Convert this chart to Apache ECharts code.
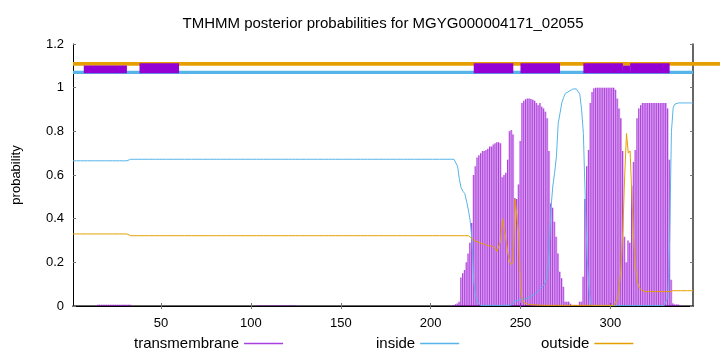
<!DOCTYPE html>
<html>
<head>
<meta charset="utf-8">
<script src="https://cdn.jsdelivr.net/npm/echarts@6/dist/echarts.min.js"></script>
<style>html,body{margin:0;padding:0;background:#fff;}#c{width:720px;height:352px;}</style>
</head>
<body>
<div id="c"></div>
<script>
// ---- data (residue 1..346) ----
const xTicks = [50, 100, 150, 200, 250, 300];
const yTicks = [0, 0.2, 0.4, 0.6, 0.8, 1, 1.2];
const seriesNames = ['transmembrane', 'inside', 'outside'];

const transmembrane = [
0,0,0,0,0,0,0,0,0,0,
0,0,0,0,0.006,0.006,0.006,0.006,0.006,0.006,
0.006,0.006,0.006,0.006,0.006,0.006,0.006,0.006,0.006,0.006,
0.006,0.006,0.006,0,0,0,0,0,0,0,
0,0,0,0,0,0,0,0,0,0,
0,0,0,0,0,0,0,0,0,0,
0,0,0,0,0,0,0,0,0,0,
0,0,0,0,0,0,0,0,0,0,
0,0,0,0,0,0,0,0,0,0,
0,0,0,0,0,0,0,0,0,0,
0,0,0,0.002,0.002,0.002,0.002,0.002,0.002,0.002,
0.002,0.002,0.002,0.002,0.002,0.002,0.002,0.002,0.002,0.002,
0.002,0.002,0.002,0.002,0.002,0,0,0,0,0,
0,0,0,0,0,0,0,0,0,0,
0,0,0,0,0,0,0,0,0,0,
0,0,0,0,0,0,0,0,0,0,
0,0,0,0,0,0,0,0,0,0,
0,0,0,0,0,0,0,0,0,0,
0,0,0,0,0,0,0,0,0,0,
0,0,0,0,0,0,0,0,0,0,
0,0,0,0,0,0,0,0,0,0,
0,0,0.004,0.008,0.012,0.02,0.13,0.15,0.165,0.2,
0.24,0.29,0.38,0.6,0.64,0.68,0.69,0.7,0.71,0.71,
0.715,0.72,0.73,0.73,0.74,0.745,0.75,0.75,0.745,0.59,
0.6,0.61,0.67,0.8,0.806,0.786,0.495,0.49,0.557,0.756,
0.93,0.94,0.947,0.95,0.95,0.948,0.945,0.94,0.93,0.92,
0.93,0.913,0.905,0.89,0.86,0.71,0.47,0.45,0.386,0.317,
0.24,0.157,0.127,0.088,0.02,0.02,0.02,0.01,0.005,0.005,
0.005,0.005,0.02,0.02,0.134,0.49,0.64,0.715,0.93,0.98,
0.997,1,1,1,1,1,1,1,1,1,
1,1,0.99,0.95,0.905,0.86,0.71,0.317,0.2,0.3,
0.29,0.55,0.66,0.715,0.86,0.905,0.92,0.93,0.93,0.93,
0.93,0.93,0.93,0.93,0.93,0.93,0.93,0.93,0.93,0.93,
0.93,0.905,0.67,0.12,0.012,0.007,0.007,0.007,0,0,
0,0,0,0,0,0
];

const inside = [
0.665,0.665,0.665,0.665,0.665,0.665,0.665,0.665,0.665,0.665,
0.665,0.665,0.665,0.665,0.665,0.665,0.665,0.665,0.665,0.665,
0.665,0.665,0.665,0.665,0.665,0.665,0.665,0.665,0.665,0.665,
0.665,0.665,0.672,0.672,0.672,0.672,0.672,0.672,0.672,0.672,
0.672,0.672,0.672,0.672,0.672,0.672,0.672,0.672,0.672,0.672,
0.672,0.672,0.672,0.672,0.672,0.672,0.672,0.672,0.672,0.672,
0.672,0.672,0.672,0.672,0.672,0.672,0.672,0.672,0.672,0.672,
0.672,0.672,0.672,0.672,0.672,0.672,0.672,0.672,0.672,0.672,
0.672,0.672,0.672,0.672,0.672,0.672,0.672,0.672,0.672,0.672,
0.672,0.672,0.672,0.672,0.672,0.672,0.672,0.672,0.672,0.672,
0.672,0.672,0.672,0.672,0.672,0.672,0.672,0.672,0.672,0.672,
0.672,0.672,0.672,0.672,0.672,0.672,0.672,0.672,0.672,0.672,
0.672,0.672,0.672,0.672,0.672,0.672,0.672,0.672,0.672,0.672,
0.672,0.672,0.672,0.672,0.672,0.672,0.672,0.672,0.672,0.672,
0.672,0.672,0.672,0.672,0.672,0.672,0.672,0.672,0.672,0.672,
0.672,0.672,0.672,0.672,0.672,0.672,0.672,0.672,0.672,0.672,
0.672,0.672,0.672,0.672,0.672,0.672,0.672,0.672,0.672,0.672,
0.672,0.672,0.672,0.672,0.672,0.672,0.672,0.672,0.672,0.672,
0.672,0.672,0.672,0.672,0.672,0.672,0.672,0.672,0.672,0.672,
0.672,0.672,0.672,0.672,0.672,0.672,0.672,0.672,0.672,0.672,
0.672,0.672,0.672,0.672,0.672,0.672,0.672,0.672,0.672,0.672,
0.672,0.672,0.672,0.665,0.64,0.58,0.54,0.525,0.515,0.48,
0.44,0.39,0.3,0.11,0.045,0.015,0.006,0.003,0.003,0.003,
0.003,0.003,0.003,0.003,0.003,0.003,0.003,0.003,0.003,0.003,
0.003,0.003,0.003,0.003,0.003,0.01,0.024,0.026,0.027,0.028,
0.03,0.032,0.034,0.037,0.04,0.045,0.05,0.056,0.062,0.07,
0.078,0.086,0.095,0.104,0.134,0.256,0.45,0.55,0.61,0.684,
0.837,0.883,0.93,0.955,0.974,0.98,0.983,0.99,0.993,0.995,
0.995,0.99,0.97,0.9,0.79,0.5,0.24,0.088,0.012,0.002,
0.002,0.002,0.002,0.002,0.002,0.002,0.002,0.002,0.002,0.002,
0.002,0.002,0.002,0.002,0.002,0.002,0.002,0.002,0.002,0.002,
0.002,0.002,0.002,0.002,0.002,0.002,0.002,0.002,0.002,0.002,
0.002,0.002,0.002,0.002,0.002,0.002,0.002,0.002,0.002,0.002,
0.01,0.04,0.3,0.8,0.91,0.925,0.93,0.93,0.93,0.93,
0.93,0.93,0.93,0.93,0.93,0.93
];

const outside = [
0.33,0.33,0.33,0.33,0.33,0.33,0.33,0.33,0.33,0.33,
0.33,0.33,0.33,0.33,0.33,0.33,0.33,0.33,0.33,0.33,
0.33,0.33,0.33,0.33,0.33,0.33,0.33,0.33,0.33,0.33,
0.33,0.33,0.322,0.322,0.322,0.322,0.322,0.322,0.322,0.322,
0.322,0.322,0.322,0.322,0.322,0.322,0.322,0.322,0.322,0.322,
0.322,0.322,0.322,0.322,0.322,0.322,0.322,0.322,0.322,0.322,
0.322,0.322,0.322,0.322,0.322,0.322,0.322,0.322,0.322,0.322,
0.322,0.322,0.322,0.322,0.322,0.322,0.322,0.322,0.322,0.322,
0.322,0.322,0.322,0.322,0.322,0.322,0.322,0.322,0.322,0.322,
0.322,0.322,0.322,0.322,0.322,0.322,0.322,0.322,0.322,0.322,
0.322,0.322,0.322,0.322,0.322,0.322,0.322,0.322,0.322,0.322,
0.322,0.322,0.322,0.322,0.322,0.322,0.322,0.322,0.322,0.322,
0.322,0.322,0.322,0.322,0.322,0.322,0.322,0.322,0.322,0.322,
0.322,0.322,0.322,0.322,0.322,0.322,0.322,0.322,0.322,0.322,
0.322,0.322,0.322,0.322,0.322,0.322,0.322,0.322,0.322,0.322,
0.322,0.322,0.322,0.322,0.322,0.322,0.322,0.322,0.322,0.322,
0.322,0.322,0.322,0.322,0.322,0.322,0.322,0.322,0.322,0.322,
0.322,0.322,0.322,0.322,0.322,0.322,0.322,0.322,0.322,0.322,
0.322,0.322,0.322,0.322,0.322,0.322,0.322,0.322,0.322,0.322,
0.322,0.322,0.322,0.322,0.322,0.322,0.322,0.322,0.322,0.322,
0.322,0.322,0.322,0.322,0.322,0.322,0.322,0.322,0.322,0.322,
0.322,0.322,0.322,0.322,0.322,0.322,0.322,0.322,0.322,0.322,
0.322,0.322,0.31,0.3,0.297,0.294,0.29,0.287,0.285,0.283,
0.28,0.275,0.27,0.275,0.27,0.264,0.25,0.248,0.3,0.4,
0.395,0.3,0.24,0.2,0.19,0.21,0.49,0.49,0.33,0.09,
0.03,0.015,0.008,0.008,0.006,0.006,0.005,0.005,0.004,0.004,
0.004,0.004,0.004,0.003,0.003,0.003,0.003,0.003,0.003,0.003,
0.003,0.003,0.003,0.003,0.003,0.003,0.003,0.003,0.003,0.003,
0.003,0.003,0.003,0.003,0.003,0.003,0.003,0.003,0.003,0.003,
0.003,0.003,0.003,0.003,0.003,0.003,0.003,0.003,0.003,0.003,
0.003,0.003,0.003,0.03,0.09,0.18,0.35,0.6,0.79,0.7,
0.71,0.5,0.3,0.18,0.11,0.085,0.075,0.066,0.066,0.066,
0.066,0.066,0.066,0.066,0.066,0.066,0.066,0.066,0.066,0.066,
0.066,0.066,0.066,0.07,0.07,0.07,0.07,0.07,0.07,0.07,
0.07,0.07,0.07,0.07,0.07,0.07
];

// predicted topology segments [start, end] (residues)
const outsideTrack = [[1, 346]];
const insideTrack = [[1, 346]];
const tmThickSegments = [[38, 60], [224, 246], [250, 272], [285, 307], [311, 333]];
const tmThinSegments = [[7, 31], [307, 311]];

// ---- chart ----
const residues = transmembrane.map((_, i) => i + 1);
const pairs = arr => arr.map((v, i) => [residues[i], v]);

const FONT = 'Liberation Sans';
const C_TM = '#9400d3', C_IN = '#56b4e9', C_OUT = '#e69f00';

function bandItem(yTop, yBot, color, extendRight) {
  return function (params, api) {
    const a = api.coord([api.value(0), yTop]);
    const b = api.coord([api.value(1), yBot]);
    const x1 = extendRight ? api.getWidth() : b[0];
    return { type: 'rect', shape: { x: a[0], y: a[1], width: x1 - a[0], height: b[1] - a[1] },
      style: { fill: color } };
  };
}

const chart = echarts.init(document.getElementById('c'), null, { renderer: 'canvas' });
const axisCommon = {
  type: 'value', min: 1, max: 346,
  axisLine: { show: true, lineStyle: { color: '#000', width: 1 } },
  splitLine: { show: false },
};
const legendCommon = { top: 331, align: 'right', itemWidth: 39, itemHeight: 1.3, icon: 'rect',
  textStyle: { fontFamily: FONT, fontSize: 15, color: '#000' }, selectedMode: false };
chart.setOption({
  animation: false,
  backgroundColor: '#fff',
  textStyle: { fontFamily: FONT },
  title: {
    text: 'TMHMM posterior probabilities for MGYG000004171_02055',
    left: 378, top: 11, textAlign: 'center',
    textStyle: { fontFamily: FONT, fontSize: 15, fontWeight: 'normal', color: '#000' }
  },
  grid: { left: 73, right: 27, top: 44, bottom: 46 },
  legend: [
    Object.assign({}, legendCommon, { left: 129, data: [{ name: seriesNames[0], itemStyle: { color: '#a640e0' } }] }),
    Object.assign({}, legendCommon, { left: 371, data: [{ name: seriesNames[1], itemStyle: { color: C_IN } }] }),
    Object.assign({}, legendCommon, { left: 536, data: [{ name: seriesNames[2], itemStyle: { color: C_OUT } }] })
  ],
  xAxis: [
    Object.assign({}, axisCommon, {
      position: 'bottom',
      axisLine: { show: true, lineStyle: { color: '#333', width: 1.5 } },
      axisTick: { show: true, inside: true, length: 3, customValues: xTicks, lineStyle: { color: '#777' } },
      axisLabel: { show: true, customValues: xTicks, margin: 11, fontFamily: FONT, fontSize: 13, color: '#000' }
    }),
    Object.assign({}, axisCommon, {
      position: 'top',
      axisTick: { show: true, inside: true, length: 3, customValues: xTicks, lineStyle: { color: '#777' } },
      axisLabel: { show: false }
    })
  ],
  yAxis: [
    {
      type: 'value', min: 0, max: 1.2, interval: 0.2,
      name: 'probability', nameLocation: 'middle', nameGap: 50, nameRotate: 90,
      nameTextStyle: { fontFamily: FONT, fontSize: 13, color: '#000' },
      axisLine: { show: true, lineStyle: { color: '#000', width: 1 } },
      axisTick: { show: true, inside: true, length: 3, lineStyle: { color: '#777' } },
      axisLabel: { margin: 9, fontFamily: FONT, fontSize: 13, color: '#000',
        formatter: v => String(+v.toFixed(1)) },
      splitLine: { show: false }
    },
    {
      type: 'value', min: 0, max: 1.2, interval: 0.2, position: 'right',
      axisLine: { show: true, lineStyle: { color: '#333', width: 1.5 } },
      axisTick: { show: true, inside: true, length: 3, lineStyle: { color: '#777' } },
      axisLabel: { show: false }, splitLine: { show: false }
    }
  ],
  series: [
    { name: 'transmembrane', type: 'bar', data: pairs(transmembrane), barWidth: 0.8, barGap: '-100%',
      itemStyle: { color: 'rgba(148,0,211,0.65)' }, z: 2 },
    { name: 'transmembrane', type: 'bar', data: pairs(transmembrane), barWidth: 1.8, barGap: '-100%',
      itemStyle: { color: 'rgba(148,0,211,0.3)' }, z: 1 },
    { name: 'inside', type: 'line', data: pairs(inside), showSymbol: false, symbol: 'none',
      lineStyle: { color: C_IN, width: 1 }, itemStyle: { color: C_IN }, z: 3 },
    { name: 'outside', type: 'line', data: pairs(outside), showSymbol: false, symbol: 'none',
      lineStyle: { color: C_OUT, width: 1 }, itemStyle: { color: C_OUT }, z: 3 },
    { type: 'custom', data: insideTrack, renderItem: bandItem(1.077, 1.063, C_IN, false), clip: false, z: 4, silent: true },
    { type: 'custom', data: outsideTrack, renderItem: bandItem(1.118, 1.1, C_OUT, true), clip: false, z: 5, silent: true },
    { type: 'custom', data: tmThinSegments, renderItem: bandItem(1.101, 1.066, C_TM, false), clip: false, z: 6, silent: true },
    { type: 'custom', data: tmThickSegments, renderItem: bandItem(1.112, 1.066, C_TM, false), clip: false, z: 6, silent: true }
  ]
});
</script>
</body>
</html>
